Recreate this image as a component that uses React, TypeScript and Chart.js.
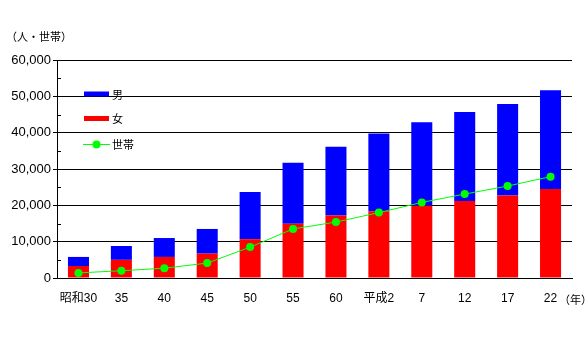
import React, { useEffect, useRef } from "react";
import { Chart, registerables } from "chart.js";

Chart.register(...registerables);

const categories = ["昭和30", "35", "40", "45", "50", "55", "60", "平成2", "7", "12", "17", "22"];
const female = [3300, 5000, 5800, 6700, 10700, 14900, 17200, 18400, 19900, 21200, 22700, 24500];
const male = [2500, 3800, 5200, 6800, 13000, 16800, 18900, 21400, 23000, 24500, 25200, 27200];
const households = [1400, 2000, 2700, 4100, 8500, 13500, 15400, 18000, 20800, 23100, 25300, 27900];
const yTicks = [0, 10000, 20000, 30000, 40000, 50000, 60000];
const unitY = "（人・世帯）";
const unitX = "（年）";

const CJK_FONT = '11px "Noto Sans CJK JP", sans-serif';

const extras = {
  id: "extras",
  afterDatasetsDraw(chart: any) {
    const ctx = chart.ctx;
    const y = chart.scales.y;
    const area = chart.chartArea;
    ctx.save();
    // minor ticks inside
    ctx.strokeStyle = "#000";
    ctx.lineWidth = 1;
    for (let v = 5000; v < 60000; v += 10000) {
      const py = Math.round(y.getPixelForValue(v)) + 0.5;
      ctx.beginPath();
      ctx.moveTo(area.left, py);
      ctx.lineTo(area.left + 4, py);
      ctx.stroke();
    }
    // legend
    const lx = 84;
    const items = [
      { label: "男", color: "#0000FF", type: "box", yy: 93.5 },
      { label: "女", color: "#FF0000", type: "box", yy: 118 },
      { label: "世帯", color: "#00FF00", type: "line", yy: 144 },
    ];
    ctx.font = '11px "Noto Sans CJK JP", sans-serif';
    ctx.textBaseline = "middle";
    ctx.textAlign = "left";
    for (const it of items) {
      if (it.type === "box") {
        ctx.fillStyle = it.color;
        ctx.fillRect(lx, it.yy - 2, 25, 5);
      } else {
        ctx.strokeStyle = it.color;
        ctx.lineWidth = 1;
        ctx.beginPath();
        ctx.moveTo(lx - 1, it.yy + 0.5);
        ctx.lineTo(lx + 26, it.yy + 0.5);
        ctx.stroke();
        ctx.fillStyle = it.color;
        ctx.beginPath();
        ctx.arc(lx + 12.5, it.yy + 0.5, 4, 0, Math.PI * 2);
        ctx.fill();
      }
      ctx.fillStyle = "#000";
      ctx.fillText(it.label, lx + 28, it.yy + 1);
    }
    // unit labels
    ctx.font = CJK_FONT;
    ctx.textAlign = "left";
    ctx.fillText(unitY, 6, 37);
    ctx.fillText(unitX, 559, 300);
    ctx.restore();
  },
};

export default function App() {
  const ref = useRef<HTMLCanvasElement | null>(null);
  useEffect(() => {
    if (!ref.current) return;
    const chart = new Chart(ref.current, {
      type: "bar",
      data: {
        labels: categories,
        datasets: [
          {
            type: "line",
            label: "世帯",
            data: households,
            borderColor: "#00FF00",
            backgroundColor: "#00FF00",
            borderWidth: 1,
            pointRadius: 4,
            pointBorderWidth: 0,
            pointBackgroundColor: "#00FF00",
            tension: 0,
            stack: "hh",
            order: 0,
          } as any,
          {
            label: "女",
            data: female,
            backgroundColor: "#FF0000",
            stack: "pop",
            order: 1,
            categoryPercentage: 1,
            barPercentage: 0.49,
          },
          {
            label: "男",
            data: male,
            backgroundColor: "#0000FF",
            stack: "pop",
            order: 2,
            categoryPercentage: 1,
            barPercentage: 0.49,
          },
        ],
      },
      options: {
        responsive: false,
        animation: false,
        devicePixelRatio: 1,
        layout: { padding: { left: 0, top: 60, right: 16, bottom: 0 } },
        plugins: { legend: { display: false }, tooltip: { enabled: false } },
        scales: {
          x: {
            stacked: true,
            grid: { display: false, drawTicks: false },
            border: { display: true, color: "#000", width: 1 },
            ticks: {
              color: "#000",
              font: { family: '"Liberation Sans", "Noto Sans CJK JP", sans-serif', size: 12 },
              padding: 13,
              maxRotation: 0,
              autoSkip: false,
            },
            afterFit: (s: any) => {
              s.height = 67;
            },
          },
          y: {
            stacked: true,
            min: 0,
            max: 60000,
            grid: { color: "#000", lineWidth: 1, tickLength: 4, drawTicks: true },
            border: { display: true, color: "#000", width: 1 },
            afterBuildTicks: (s: any) => {
              s.ticks = yTicks.map((v) => ({ value: v }));
            },
            ticks: {
              color: "#000",
              font: { family: '"Liberation Sans", Arial, sans-serif', size: 13 },
              padding: 2,
              callback: (v: any) => Number(v).toLocaleString("en-US"),
            },
            afterFit: (s: any) => {
              s.width = 57;
            },
          },
        },
      },
      plugins: [extras],
    });
    return () => chart.destroy();
  }, []);
  return (
    <div style={{ position: "absolute", left: 0, top: 0, width: 588, height: 345, background: "#fff" }}>
      <canvas ref={ref} width={588} height={345} style={{ width: 588, height: 345, display: "block" }} />
    </div>
  );
}
